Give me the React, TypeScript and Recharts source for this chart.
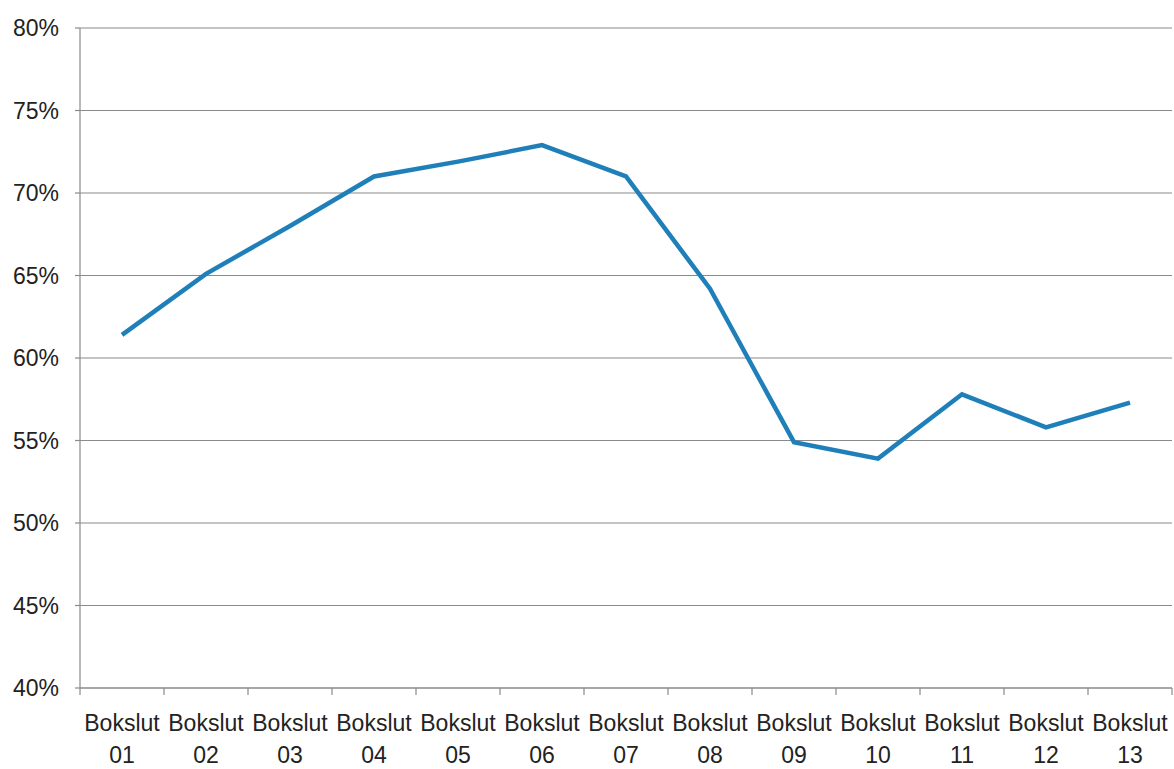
import React from 'react';
import { LineChart, Line, XAxis, YAxis, CartesianGrid } from 'recharts';

const categories = ['01', '02', '03', '04', '05', '06', '07', '08', '09', '10', '11', '12', '13'];
const shares = [61.4, 65.1, 68.0, 71.0, 71.9, 72.9, 71.0, 64.2, 54.9, 53.9, 57.8, 55.8, 57.3];
const yTicks = [40, 45, 50, 55, 60, 65, 70, 75, 80];
const boundaryTicks = [0, 1, 2, 3, 4, 5, 6, 7, 8, 9, 10, 11, 12, 13];

// pos = centre of each category band, used only by the hidden boundary-tick axis
const data = categories.map((c, i) => ({ name: c, value: shares[i], pos: i + 0.5 }));

const FONT = '"Liberation Sans", Arial, sans-serif';
const TEXT = '#222';
const GRID = '#8a8a8a';

const TwoLineTick = (props: any) => {
    const { x, y, payload } = props;
    return (
        <g transform={`translate(${x},${y})`}>
            <text textAnchor="middle" fontFamily={FONT} fontSize={23} fill={TEXT}>
                <tspan x={0} dy={34}>Bokslut</tspan>
                <tspan x={0} dy={32}>{payload.value}</tspan>
            </text>
        </g>
    );
};

export default function App() {
    return (
        <div style={{ position: 'absolute', left: 0, top: 0, width: 1174, height: 769, background: '#fff' }}>
            <LineChart
                width={1174}
                height={769}
                data={data}
                margin={{ top: 28, right: 2, bottom: 0, left: 0 }}
            >
                <CartesianGrid xAxisId="cat" vertical={false} stroke={GRID} strokeWidth={1.2} />
                <XAxis
                    xAxisId="bounds"
                    dataKey="pos"
                    type="number"
                    domain={[0, 13]}
                    allowDataOverflow
                    ticks={boundaryTicks}
                    tickFormatter={() => ''}
                    height={1}
                    axisLine={{ stroke: GRID, strokeWidth: 1.2 }}
                    tickLine={{ stroke: GRID, strokeWidth: 1.2 }}
                    tickSize={7}
                />
                <XAxis
                    xAxisId="cat"
                    dataKey="name"
                    scale="band"
                    height={80}
                    axisLine={false}
                    tickLine={false}
                    interval={0}
                    tick={<TwoLineTick />}
                />
                <YAxis
                    width={80}
                    domain={[40, 80]}
                    ticks={yTicks}
                    tickFormatter={(v: number) => `${v}%`}
                    axisLine={{ stroke: GRID, strokeWidth: 1.2 }}
                    tickLine={{ stroke: GRID, strokeWidth: 1.2 }}
                    tickSize={5}
                    tickMargin={16}
                    tick={{ fontFamily: FONT, fontSize: 23, fill: TEXT }}
                />
                <Line
                    xAxisId="cat"
                    type="linear"
                    dataKey="value"
                    stroke="#1f7fb9"
                    strokeWidth={4.5}
                    dot={false}
                    isAnimationActive={false}
                />
                <Line
                    xAxisId="bounds"
                    dataKey="value"
                    stroke="none"
                    dot={false}
                    legendType="none"
                    isAnimationActive={false}
                />
            </LineChart>
        </div>
    );
}
